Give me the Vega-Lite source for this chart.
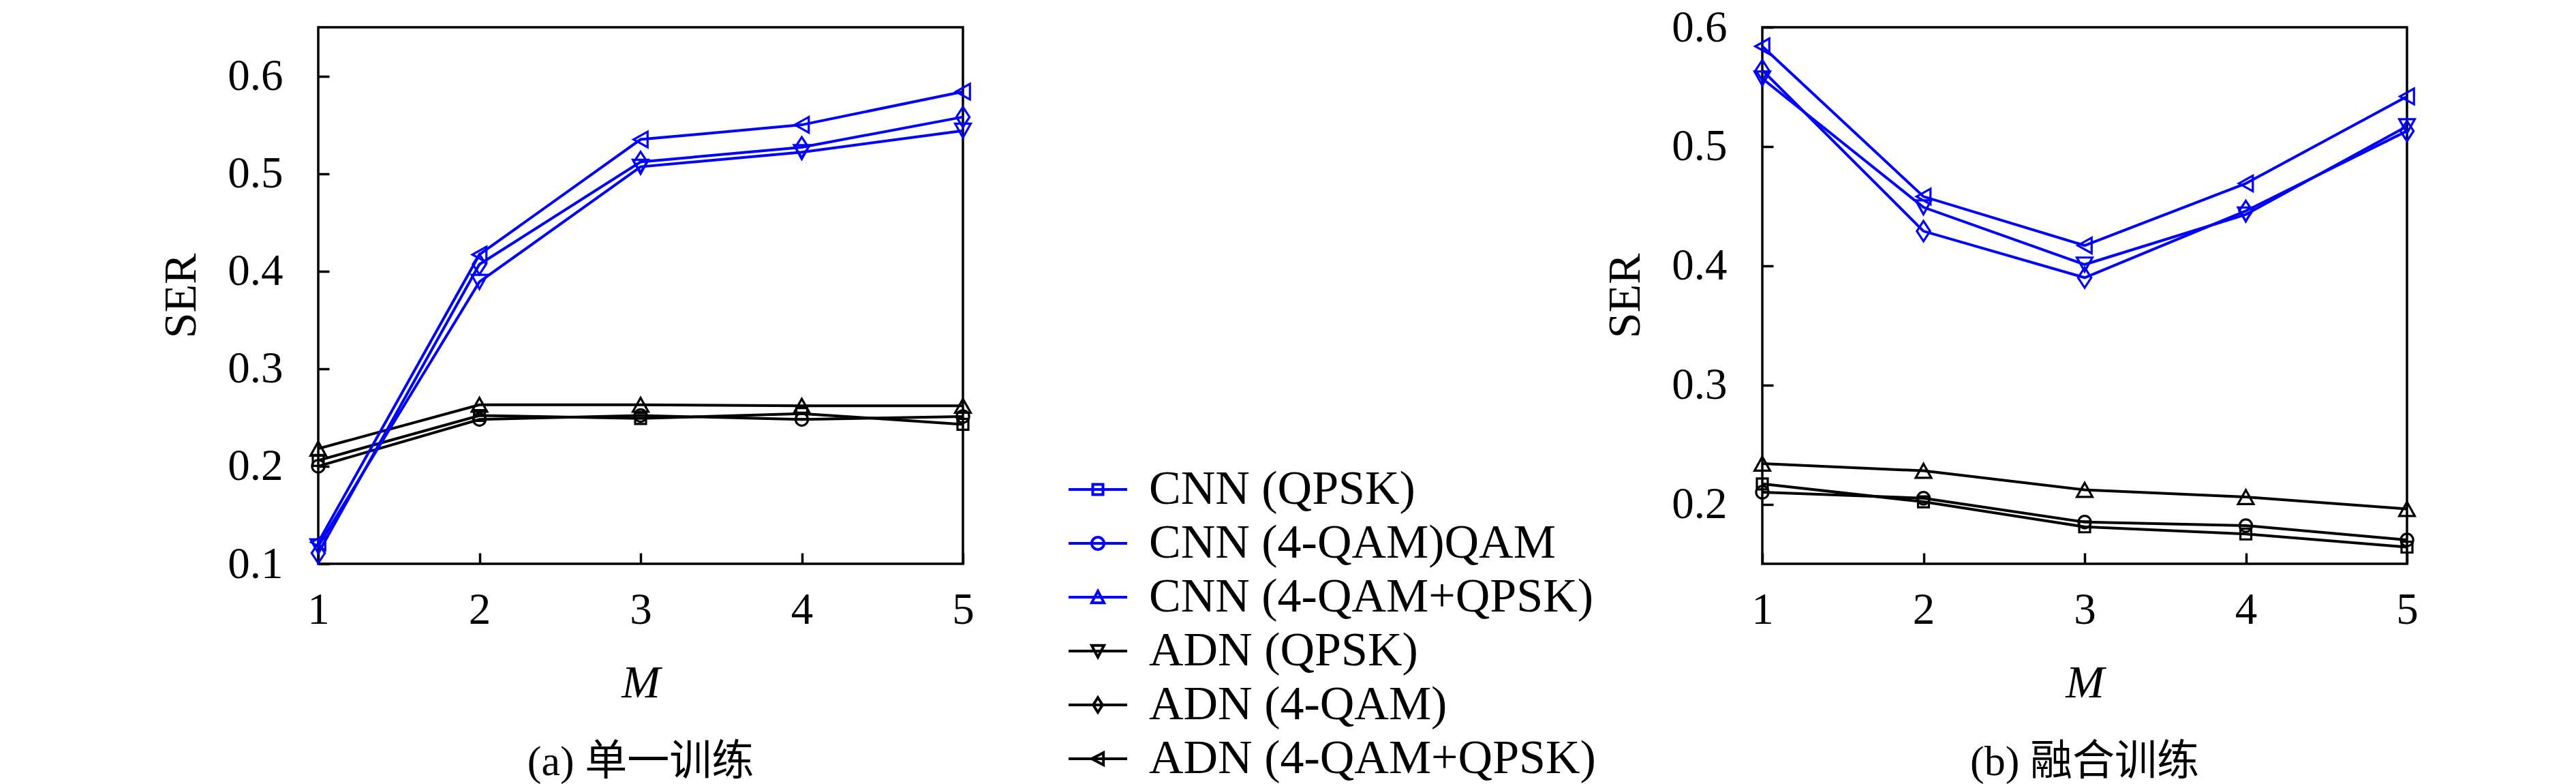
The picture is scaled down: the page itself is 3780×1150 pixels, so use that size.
{
  "$schema": "https://vega.github.io/schema/vega-lite/v6.json",
  "background": "white",
  "padding": {"left": 231, "top": 6, "right": 0, "bottom": 0},
  "config": {
    "view": {"stroke": "black", "strokeWidth": 3.5},
    "axis": {
      "domain": false, "grid": false,
      "tickColor": "black", "tickWidth": 3.5, "tickSize": -16,
      "labelFont": "Liberation Serif", "labelFontSize": 65, "labelColor": "black",
      "titleFont": "Liberation Serif", "titleFontSize": 68, "titleFontWeight": "normal", "titleColor": "black",
      "labelFlush": false, "labelOverlap": false
    },
    "axisX": {"labelPadding": 52, "titlePadding": 41, "labelAngle": 0, "titleFontStyle": "italic"},
    "axisY": {"labelPadding": 68, "titlePadding": 33}
  },
  "datasets": {
    "curves": [
      {"panel": "a", "model": "ADN", "curve": "ADN (4-QAM+QPSK)", "M": 1, "SER": 0.218},
      {"panel": "a", "model": "ADN", "curve": "ADN (4-QAM+QPSK)", "M": 2, "SER": 0.263},
      {"panel": "a", "model": "ADN", "curve": "ADN (4-QAM+QPSK)", "M": 3, "SER": 0.263},
      {"panel": "a", "model": "ADN", "curve": "ADN (4-QAM+QPSK)", "M": 4, "SER": 0.262},
      {"panel": "a", "model": "ADN", "curve": "ADN (4-QAM+QPSK)", "M": 5, "SER": 0.262},
      {"panel": "a", "model": "ADN", "curve": "ADN (QPSK)", "M": 1, "SER": 0.206},
      {"panel": "a", "model": "ADN", "curve": "ADN (QPSK)", "M": 2, "SER": 0.252},
      {"panel": "a", "model": "ADN", "curve": "ADN (QPSK)", "M": 3, "SER": 0.249},
      {"panel": "a", "model": "ADN", "curve": "ADN (QPSK)", "M": 4, "SER": 0.254},
      {"panel": "a", "model": "ADN", "curve": "ADN (QPSK)", "M": 5, "SER": 0.243},
      {"panel": "a", "model": "ADN", "curve": "ADN (4-QAM)", "M": 1, "SER": 0.200},
      {"panel": "a", "model": "ADN", "curve": "ADN (4-QAM)", "M": 2, "SER": 0.248},
      {"panel": "a", "model": "ADN", "curve": "ADN (4-QAM)", "M": 3, "SER": 0.252},
      {"panel": "a", "model": "ADN", "curve": "ADN (4-QAM)", "M": 4, "SER": 0.248},
      {"panel": "a", "model": "ADN", "curve": "ADN (4-QAM)", "M": 5, "SER": 0.251},
      {"panel": "a", "model": "CNN", "curve": "CNN (4-QAM+QPSK)", "M": 1, "SER": 0.122},
      {"panel": "a", "model": "CNN", "curve": "CNN (4-QAM+QPSK)", "M": 2, "SER": 0.417},
      {"panel": "a", "model": "CNN", "curve": "CNN (4-QAM+QPSK)", "M": 3, "SER": 0.535},
      {"panel": "a", "model": "CNN", "curve": "CNN (4-QAM+QPSK)", "M": 4, "SER": 0.550},
      {"panel": "a", "model": "CNN", "curve": "CNN (4-QAM+QPSK)", "M": 5, "SER": 0.584},
      {"panel": "a", "model": "CNN", "curve": "CNN (4-QAM)", "M": 1, "SER": 0.111},
      {"panel": "a", "model": "CNN", "curve": "CNN (4-QAM)", "M": 2, "SER": 0.407},
      {"panel": "a", "model": "CNN", "curve": "CNN (4-QAM)", "M": 3, "SER": 0.512},
      {"panel": "a", "model": "CNN", "curve": "CNN (4-QAM)", "M": 4, "SER": 0.527},
      {"panel": "a", "model": "CNN", "curve": "CNN (4-QAM)", "M": 5, "SER": 0.558},
      {"panel": "a", "model": "CNN", "curve": "CNN (QPSK)", "M": 1, "SER": 0.118},
      {"panel": "a", "model": "CNN", "curve": "CNN (QPSK)", "M": 2, "SER": 0.389},
      {"panel": "a", "model": "CNN", "curve": "CNN (QPSK)", "M": 3, "SER": 0.507},
      {"panel": "a", "model": "CNN", "curve": "CNN (QPSK)", "M": 4, "SER": 0.522},
      {"panel": "a", "model": "CNN", "curve": "CNN (QPSK)", "M": 5, "SER": 0.544},
      {"panel": "b", "model": "ADN", "curve": "ADN (4-QAM+QPSK)", "M": 1, "SER": 0.234},
      {"panel": "b", "model": "ADN", "curve": "ADN (4-QAM+QPSK)", "M": 2, "SER": 0.228},
      {"panel": "b", "model": "ADN", "curve": "ADN (4-QAM+QPSK)", "M": 3, "SER": 0.212},
      {"panel": "b", "model": "ADN", "curve": "ADN (4-QAM+QPSK)", "M": 4, "SER": 0.206},
      {"panel": "b", "model": "ADN", "curve": "ADN (4-QAM+QPSK)", "M": 5, "SER": 0.196},
      {"panel": "b", "model": "ADN", "curve": "ADN (QPSK)", "M": 1, "SER": 0.217},
      {"panel": "b", "model": "ADN", "curve": "ADN (QPSK)", "M": 2, "SER": 0.202},
      {"panel": "b", "model": "ADN", "curve": "ADN (QPSK)", "M": 3, "SER": 0.181},
      {"panel": "b", "model": "ADN", "curve": "ADN (QPSK)", "M": 4, "SER": 0.175},
      {"panel": "b", "model": "ADN", "curve": "ADN (QPSK)", "M": 5, "SER": 0.164},
      {"panel": "b", "model": "ADN", "curve": "ADN (4-QAM)", "M": 1, "SER": 0.210},
      {"panel": "b", "model": "ADN", "curve": "ADN (4-QAM)", "M": 2, "SER": 0.205},
      {"panel": "b", "model": "ADN", "curve": "ADN (4-QAM)", "M": 3, "SER": 0.185},
      {"panel": "b", "model": "ADN", "curve": "ADN (4-QAM)", "M": 4, "SER": 0.182},
      {"panel": "b", "model": "ADN", "curve": "ADN (4-QAM)", "M": 5, "SER": 0.170},
      {"panel": "b", "model": "CNN", "curve": "CNN (4-QAM+QPSK)", "M": 1, "SER": 0.584},
      {"panel": "b", "model": "CNN", "curve": "CNN (4-QAM+QPSK)", "M": 2, "SER": 0.458},
      {"panel": "b", "model": "CNN", "curve": "CNN (4-QAM+QPSK)", "M": 3, "SER": 0.417},
      {"panel": "b", "model": "CNN", "curve": "CNN (4-QAM+QPSK)", "M": 4, "SER": 0.469},
      {"panel": "b", "model": "CNN", "curve": "CNN (4-QAM+QPSK)", "M": 5, "SER": 0.542},
      {"panel": "b", "model": "CNN", "curve": "CNN (4-QAM)", "M": 1, "SER": 0.564},
      {"panel": "b", "model": "CNN", "curve": "CNN (4-QAM)", "M": 2, "SER": 0.429},
      {"panel": "b", "model": "CNN", "curve": "CNN (4-QAM)", "M": 3, "SER": 0.390},
      {"panel": "b", "model": "CNN", "curve": "CNN (4-QAM)", "M": 4, "SER": 0.446},
      {"panel": "b", "model": "CNN", "curve": "CNN (4-QAM)", "M": 5, "SER": 0.513},
      {"panel": "b", "model": "CNN", "curve": "CNN (QPSK)", "M": 1, "SER": 0.557},
      {"panel": "b", "model": "CNN", "curve": "CNN (QPSK)", "M": 2, "SER": 0.449},
      {"panel": "b", "model": "CNN", "curve": "CNN (QPSK)", "M": 3, "SER": 0.401},
      {"panel": "b", "model": "CNN", "curve": "CNN (QPSK)", "M": 4, "SER": 0.443},
      {"panel": "b", "model": "CNN", "curve": "CNN (QPSK)", "M": 5, "SER": 0.517}
    ],
    "legendEntries": [
      {"entry": "CNN (QPSK)"},
      {"entry": "CNN (4-QAM)QAM"},
      {"entry": "CNN (4-QAM+QPSK)"},
      {"entry": "ADN (QPSK)"},
      {"entry": "ADN (4-QAM)"},
      {"entry": "ADN (4-QAM+QPSK)"}
    ]
  },
  "resolve": {
    "scale": {"color": "independent", "shape": "independent"},
    "legend": {"color": "independent", "shape": "independent"}
  },
  "bounds": "flush",
  "spacing": 586,
  "hconcat": [
    {
      "width": 946, "height": 787,
      "data": {"name": "curves"},
      "transform": [{"filter": "datum.panel === 'a'"}],
      "title": {"text": "(a) 单一训练", "orient": "bottom", "anchor": "middle", "frame": "group", "offset": 52, "font": "Liberation Serif, Noto Sans CJK SC", "fontSize": 62, "fontWeight": "normal", "color": "black"},
      "encoding": {
        "x": {"field": "M", "type": "quantitative", "scale": {"domain": [1, 5], "nice": false, "zero": false}, "axis": {"title": "M", "values": [1, 2, 3, 4, 5], "format": "d"}},
        "y": {"field": "SER", "type": "quantitative", "scale": {"domain": [0.1, 0.65], "nice": false, "zero": false}, "axis": {"title": "SER", "values": [0.1, 0.2, 0.3, 0.4, 0.5, 0.6], "format": ".1f"}},
        "color": {"field": "model", "type": "nominal", "scale": {"domain": ["CNN", "ADN"], "range": ["#0000ff", "#000000"]}, "legend": null}
      },
      "layer": [
        {"mark": {"type": "line", "strokeWidth": 4}, "encoding": {"detail": {"field": "curve"}}},
        {"mark": {"type": "point", "filled": false, "strokeWidth": 3.2, "size": 520, "opacity": 1},
         "encoding": {"shape": {"field": "curve", "type": "nominal", "legend": null,
           "scale": {"domain": ["CNN (4-QAM+QPSK)", "CNN (4-QAM)", "CNN (QPSK)", "ADN (4-QAM+QPSK)", "ADN (4-QAM)", "ADN (QPSK)"],
                     "range": ["M-0.9,0L0.9,-1L0.9,1Z", "M0,-1.3L0.85,0L0,1.3L-0.85,0Z", "M0,0.9L1,-0.9L-1,-0.9Z", "M0,-0.9L1,0.9L-1,0.9Z", "M-0.8,0A0.8,0.8,0,1,0,0.8,0A0.8,0.8,0,1,0,-0.8,0Z", "M-0.7,-0.7H0.7V0.7H-0.7Z"]}}}}
      ]
    },
    {
      "width": 1, "height": 787,
      "view": {"stroke": null},
      "data": {"name": "legendEntries"},
      "mark": {"type": "point", "filled": false, "opacity": 0, "strokeWidth": 4},
      "encoding": {
        "color": {"field": "entry", "type": "nominal",
          "scale": {"domain": ["CNN (QPSK)", "CNN (4-QAM)QAM", "CNN (4-QAM+QPSK)", "ADN (QPSK)", "ADN (4-QAM)", "ADN (4-QAM+QPSK)"], "range": ["#0000ff", "#0000ff", "#0000ff", "#000000", "#000000", "#000000"]},
          "legend": {"orient": "none", "legendX": -423, "legendY": 643, "title": null, "padding": 0, "labelFont": "Liberation Serif", "labelFontSize": 70, "labelColor": "black", "labelLimit": 2000, "labelOffset": 40, "rowPadding": 9, "symbolSize": 1849, "symbolStrokeWidth": 4, "symbolOpacity": 1}},
        "shape": {"field": "entry", "type": "nominal",
          "scale": {"domain": ["CNN (QPSK)", "CNN (4-QAM)QAM", "CNN (4-QAM+QPSK)", "ADN (QPSK)", "ADN (4-QAM)", "ADN (4-QAM+QPSK)"],
                    "range": ["M-2,0H2M-0.35,-0.35H0.35V0.35H-0.35Z", "M-2,0H2M-0.42,0A0.42,0.42,0,1,0,0.42,0A0.42,0.42,0,1,0,-0.42,0Z", "M-2,0H2M0,-0.42L0.42,0.38L-0.42,0.38Z", "M-2,0H2M0,0.42L0.42,-0.38L-0.42,-0.38Z", "M-2,0H2M0,-0.5L0.32,0L0,0.5L-0.32,0Z", "M-2,0H2M-0.42,0L0.38,-0.42L0.38,0.42Z"]},
          "legend": {"orient": "none", "legendX": -423, "legendY": 643, "title": null, "padding": 0, "labelFont": "Liberation Serif", "labelFontSize": 70, "labelColor": "black", "labelLimit": 2000, "labelOffset": 40, "rowPadding": 9, "symbolSize": 1849, "symbolStrokeWidth": 4, "symbolOpacity": 1}}
      }
    },
    {
      "width": 946, "height": 787,
      "data": {"name": "curves"},
      "transform": [{"filter": "datum.panel === 'b'"}],
      "title": {"text": "(b) 融合训练", "orient": "bottom", "anchor": "middle", "frame": "group", "offset": 52, "font": "Liberation Serif, Noto Sans CJK SC", "fontSize": 62, "fontWeight": "normal", "color": "black"},
      "encoding": {
        "x": {"field": "M", "type": "quantitative", "scale": {"domain": [1, 5], "nice": false, "zero": false}, "axis": {"title": "M", "values": [1, 2, 3, 4, 5], "format": "d"}},
        "y": {"field": "SER", "type": "quantitative", "scale": {"domain": [0.15, 0.6], "nice": false, "zero": false}, "axis": {"title": "SER", "values": [0.2, 0.3, 0.4, 0.5, 0.6], "format": ".1f"}},
        "color": {"field": "model", "type": "nominal", "scale": {"domain": ["CNN", "ADN"], "range": ["#0000ff", "#000000"]}, "legend": null}
      },
      "layer": [
        {"mark": {"type": "line", "strokeWidth": 4}, "encoding": {"detail": {"field": "curve"}}},
        {"mark": {"type": "point", "filled": false, "strokeWidth": 3.2, "size": 520, "opacity": 1},
         "encoding": {"shape": {"field": "curve", "type": "nominal", "legend": null,
           "scale": {"domain": ["CNN (4-QAM+QPSK)", "CNN (4-QAM)", "CNN (QPSK)", "ADN (4-QAM+QPSK)", "ADN (4-QAM)", "ADN (QPSK)"],
                     "range": ["M-0.9,0L0.9,-1L0.9,1Z", "M0,-1.3L0.85,0L0,1.3L-0.85,0Z", "M0,0.9L1,-0.9L-1,-0.9Z", "M0,-0.9L1,0.9L-1,0.9Z", "M-0.8,0A0.8,0.8,0,1,0,0.8,0A0.8,0.8,0,1,0,-0.8,0Z", "M-0.7,-0.7H0.7V0.7H-0.7Z"]}}}}
      ]
    }
  ]
}
